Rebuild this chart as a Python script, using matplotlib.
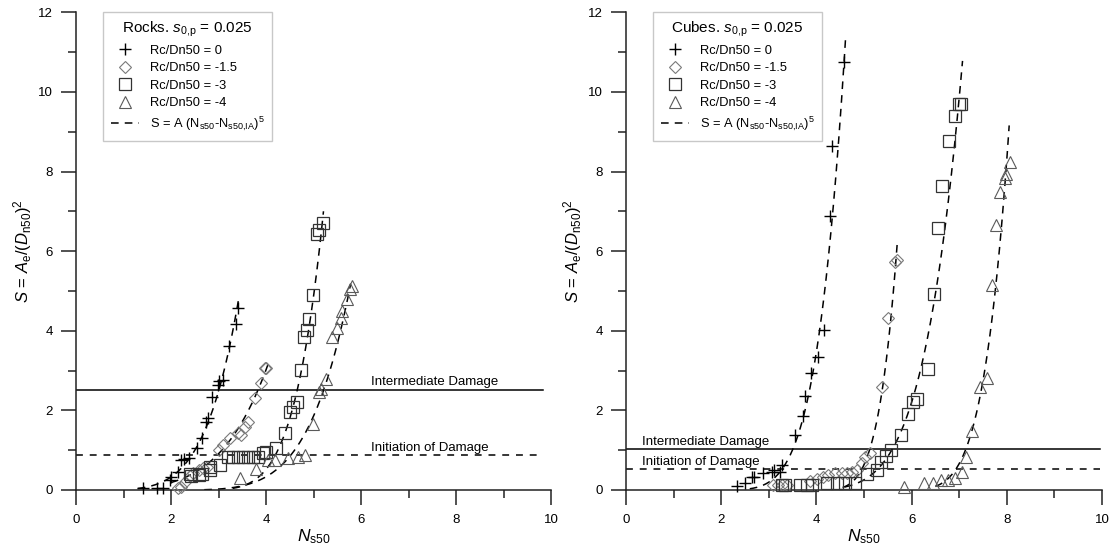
import numpy as np
import matplotlib
matplotlib.use("Agg")
import matplotlib.pyplot as plt
from matplotlib.lines import Line2D

plt.rcParams['font.family'] = ['Liberation Sans', 'DejaVu Sans']
plt.rcParams['mathtext.fontset'] = 'custom'
plt.rcParams['mathtext.rm'] = 'Liberation Sans'
plt.rcParams['mathtext.it'] = 'Liberation Sans:italic'
plt.rcParams['mathtext.bf'] = 'Liberation Sans:bold'

# ---------------- data: Rocks ----------------
rocks_rc0_x = [1.42, 1.70, 1.84, 1.98, 2.00, 2.15, 2.22, 2.28, 2.37, 2.54, 2.65, 2.74, 2.77, 2.86, 2.98, 3.02, 3.09, 3.23, 3.36, 3.42]
rocks_rc0_y = [0.06, 0.06, 0.06, 0.25, 0.32, 0.46, 0.75, 0.78, 0.80, 1.05, 1.30, 1.72, 1.80, 2.34, 2.64, 2.74, 2.76, 3.62, 4.16, 4.57]
rocks_rc15_x = [2.15, 2.22, 2.29, 2.39, 2.47, 2.58, 2.68, 2.75, 3.00, 3.10, 3.24, 3.42, 3.47, 3.56, 3.63, 3.77, 3.89, 3.98, 4.01]
rocks_rc15_y = [0.05, 0.08, 0.21, 0.34, 0.42, 0.50, 0.55, 0.59, 1.00, 1.13, 1.30, 1.42, 1.39, 1.59, 1.72, 2.30, 2.70, 3.07, 3.06]
rocks_rc3_x = [2.40, 2.43, 2.58, 2.65, 2.82, 2.83, 3.03, 3.21, 3.31, 3.42, 3.52, 3.63, 3.73, 3.84, 3.94, 4.01, 4.22, 4.40,
               4.51, 4.57, 4.65, 4.74, 4.79, 4.86, 4.91, 4.98, 5.07, 5.12, 5.19]
rocks_rc3_y = [0.40, 0.35, 0.38, 0.40, 0.50, 0.58, 0.64, 0.84, 0.84, 0.84, 0.84, 0.84, 0.84, 0.84, 0.94, 0.96, 1.06, 1.42,
               1.97, 2.09, 2.22, 3.02, 3.85, 4.03, 4.29, 4.90, 6.42, 6.53, 6.72]
rocks_rc4_x = [3.45, 3.79, 4.05, 4.19, 4.47, 4.68, 4.82, 4.98, 5.12, 5.15, 5.26, 5.38, 5.50, 5.57, 5.61, 5.71, 5.77, 5.80]
rocks_rc4_y = [0.29, 0.54, 0.75, 0.75, 0.80, 0.84, 0.88, 1.67, 2.45, 2.55, 2.80, 3.85, 4.06, 4.33, 4.50, 4.79, 5.05, 5.13]

# fit parameters S = A (N - N0)^5 : [A, N0, N_start, N_end]
rocks_fit_A = [0.0102, 0.00133, 0.0298, 0.00391]
rocks_fit_N0 = [0.0, -0.69, 2.23, 1.57]
rocks_fit_start = [1.30, 2.00, 3.30, 2.70]
rocks_fit_end = [3.43, 4.05, 5.21, 5.78]

# ---------------- data: Cubes ----------------
cubes_rc0_x = [2.33, 2.50, 2.64, 2.69, 2.88, 3.06, 3.10, 3.24, 3.27, 3.55, 3.71, 3.76, 3.88, 4.03, 4.16, 4.28, 4.33, 4.58]
cubes_rc0_y = [0.10, 0.17, 0.32, 0.33, 0.42, 0.46, 0.50, 0.46, 0.63, 1.39, 1.85, 2.37, 2.95, 3.33, 4.03, 6.88, 8.65, 10.75]
cubes_rc15_x = [3.09, 3.19, 3.28, 3.38, 3.87, 4.02, 4.14, 4.25, 4.39, 4.53, 4.65, 4.74, 4.85, 4.95, 5.02, 5.12, 5.38, 5.51, 5.66, 5.69]
cubes_rc15_y = [0.12, 0.12, 0.12, 0.12, 0.23, 0.27, 0.32, 0.38, 0.42, 0.42, 0.42, 0.44, 0.50, 0.67, 0.84, 0.92, 2.60, 4.32, 5.72, 5.78]
cubes_rc3_x = [3.27, 3.34, 3.66, 3.80, 3.90, 4.22, 4.43, 4.60, 4.81, 5.06, 5.27, 5.36, 5.46, 5.57, 5.77, 5.92, 6.02, 6.11,
               6.34, 6.47, 6.55, 6.64, 6.78, 6.91, 6.99, 7.03]
cubes_rc3_y = [0.13, 0.13, 0.13, 0.13, 0.13, 0.18, 0.18, 0.18, 0.18, 0.40, 0.49, 0.70, 0.85, 1.00, 1.39, 1.91, 2.22, 2.28,
               3.04, 4.93, 6.59, 7.64, 8.77, 9.39, 9.70, 9.70]
cubes_rc4_x = [5.85, 6.27, 6.46, 6.62, 6.77, 6.91, 7.05, 7.15, 7.26, 7.43, 7.58, 7.68, 7.77, 7.85, 7.96, 7.98, 8.06]
cubes_rc4_y = [0.08, 0.17, 0.17, 0.25, 0.25, 0.29, 0.46, 0.84, 1.47, 2.60, 2.81, 5.14, 6.65, 7.49, 7.85, 7.93, 8.25]

cubes_fit_A = [0.0551, 0.245, 0.0115, 0.0817]
cubes_fit_N0 = [1.71, 3.79, 3.14, 5.48]
cubes_fit_start = [2.60, 4.55, 4.60, 6.50]
cubes_fit_end = [4.61, 5.70, 7.07, 8.05]

series_labels = ["Rc/Dn50 = 0", "Rc/Dn50 = -1.5", "Rc/Dn50 = -3", "Rc/Dn50 = -4"]
fit_label = r"S = A (N$_{\mathrm{s50}}$-N$_{\mathrm{s50{,}IA}}$)$^{5}$"

rocks_title = r"Rocks. $s_{\mathrm{0{,}p}}$ = 0.025"
cubes_title = r"Cubes. $s_{\mathrm{0{,}p}}$ = 0.025"

damage_labels = ["Intermediate Damage", "Initiation of Damage"]
rocks_damage_levels = [2.52, 0.87]
cubes_damage_levels = [1.02, 0.52]
rocks_line_x = [0.0, 9.83]
cubes_line_x = [0.0, 9.95]
rocks_text_x = 6.22
cubes_text_x = 0.33

x_ticks = [0, 2, 4, 6, 8, 10]
y_ticks = [0, 2, 4, 6, 8, 10, 12]

# ---------------- styles ----------------
marker_styles = [
    dict(marker='+', markersize=9, mew=1.0, mec='black', mfc='none'),
    dict(marker='D', markersize=6.5, mew=0.8, mec='#7a7a7a', mfc='none'),
    dict(marker='s', markersize=9, mew=0.9, mec='#333333', mfc='none'),
    dict(marker='^', markersize=9, mew=0.8, mec='#5a5a5a', mfc='none'),
]

fig = plt.figure(figsize=(11.12, 5.52), dpi=100)
ax1 = fig.add_axes([0.06835, 0.11232, 0.42716, 0.86522])
ax2 = fig.add_axes([0.56295, 0.11232, 0.42806, 0.86522])


def draw_panel(ax, xs, ys, fitA, fitN0, fstart, fend, levels, line_x, text_x, title):
    for x, y, st in zip(xs, ys, marker_styles):
        ax.plot(x, y, linestyle='none', clip_on=False, zorder=3, **st)
    for A, N0, a, b in zip(fitA, fitN0, fstart, fend):
        xx = np.linspace(a, b, 200)
        ax.plot(xx, A * (xx - N0) ** 5, color='black', lw=1.1, linestyle=(0, (5, 4)), zorder=2)
    ax.plot(line_x, [levels[0], levels[0]], color='black', lw=1.1, zorder=1)
    ax.plot(line_x, [levels[1], levels[1]], color='black', lw=1.1, linestyle=(0, (4.5, 4.5)), zorder=1)
    ax.text(text_x, levels[0] + 0.12, damage_labels[0], fontsize=9.5, va='baseline', ha='left')
    ax.text(text_x, levels[1] + 0.12, damage_labels[1], fontsize=9.5, va='baseline', ha='left')

    ax.set_xlim(0, 10)
    ax.set_ylim(0, 12)
    ax.set_xticks(x_ticks)
    ax.set_yticks(y_ticks)
    ax.set_xticks(np.arange(1, 10, 2), minor=True)
    ax.set_yticks(np.arange(1, 12, 2), minor=True)
    ax.tick_params(axis='both', which='major', direction='out', length=11, width=1.1, labelsize=9.5, color='#222222')
    ax.tick_params(axis='x', which='major', pad=6)
    ax.tick_params(axis='y', which='major', pad=5.5)
    ax.tick_params(axis='both', which='minor', direction='out', length=5.5, width=1.1, color='#222222')
    for s in ['top', 'right']:
        ax.spines[s].set_visible(False)
    for s in ['left', 'bottom']:
        ax.spines[s].set_linewidth(1.1)
        ax.spines[s].set_color('#222222')
    ax.set_xlabel(r"$N_{\mathrm{s50}}$", fontsize=12.5, labelpad=1)
    ax.set_ylabel(r"$S$ = $A_{\mathrm{e}}$/($D_{\mathrm{n50}}$)$^{2}$", fontsize=12, labelpad=3)

    handles = [Line2D([], [], linestyle='none', **st) for st in marker_styles]
    handles.append(Line2D([], [], color='black', lw=1.1, linestyle=(0, (5, 4))))
    labels = series_labels + [fit_label]
    leg = ax.legend(handles, labels, loc='upper left', bbox_to_anchor=(0.057, 1.0), borderaxespad=0,
                    title=title, title_fontsize=11, fontsize=9.3, frameon=True, fancybox=False,
                    edgecolor='#bbbbbb', labelspacing=0.42, handlelength=2.2, handletextpad=0.8,
                    borderpad=0.6, alignment='center')
    leg.get_frame().set_linewidth(1.0)


draw_panel(ax1, [rocks_rc0_x, rocks_rc15_x, rocks_rc3_x, rocks_rc4_x],
           [rocks_rc0_y, rocks_rc15_y, rocks_rc3_y, rocks_rc4_y],
           rocks_fit_A, rocks_fit_N0, rocks_fit_start, rocks_fit_end,
           rocks_damage_levels, rocks_line_x, rocks_text_x, rocks_title)
draw_panel(ax2, [cubes_rc0_x, cubes_rc15_x, cubes_rc3_x, cubes_rc4_x],
           [cubes_rc0_y, cubes_rc15_y, cubes_rc3_y, cubes_rc4_y],
           cubes_fit_A, cubes_fit_N0, cubes_fit_start, cubes_fit_end,
           cubes_damage_levels, cubes_line_x, cubes_text_x, cubes_title)

fig.savefig("out.png", dpi=100)
